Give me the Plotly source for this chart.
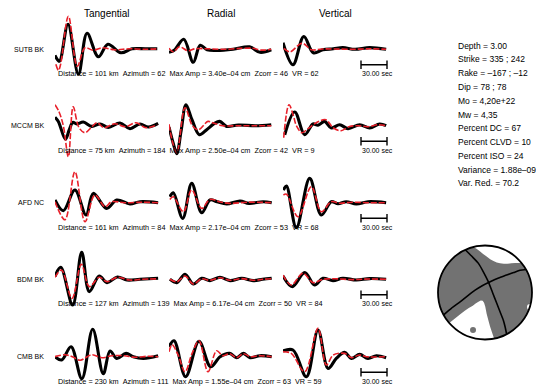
import plotly.graph_objects as go

W, H = 536, 387

# ---------------- data ----------------
STATIONS = ["SUTB BK", "MCCM BK", "AFD NC", "BDM BK", "CMB BK"]
DIST_KM = [101, 75, 161, 127, 230]
AZIMUTH = [62, 184, 84, 139, 111]
MAX_AMP_CM = [3.40e-4, 2.50e-4, 2.17e-4, 6.17e-4, 1.55e-4]
ZCORR = [46, 42, 53, 50, 63]
VR = [62, 9, 68, 84, 59]
COMPONENTS = ["Tangential", "Radial", "Vertical"]
SCALE_SEC = 30.0

# waveforms: (time [s], relative amplitude)
SUTB_TAN_OBS = [(0, -6), (5, -12), (15, 25), (27, -25), (37, 16), (50, -7.5), (61, 5), (76, -3.5), (89, 0.5), (104, 0.5), (118, 0.5)]
SUTB_TAN_SYN = [(1, -15), (4, -21), (6.5, -15), (15.5, 33), (25.7, -17), (34.6, 1.5), (44, -1), (55, 1.5), (69, -0.5), (86, 0.5), (104, 0), (118, 0.5)]
SUTB_RAD_OBS = [(0, -3), (6, -1), (17, 10), (28, -13), (36, 4), (44, -0.5), (55, -1.2), (74, 0), (93, 2.5), (105, -3), (118, -0.5)]
SUTB_RAD_SYN = [(0, 1), (5, -2.5), (12, 2.5), (22, -1.5), (30, 0.5), (45, 0.5), (65, 0), (85, 1), (97, 1), (106, -0.8), (118, 0)]
SUTB_VER_OBS = [(0, 6.5), (11.5, -15.5), (24, 12.8), (35, -3.5), (46, -0.5), (58, 0.5), (69, 1.7), (83, 0), (100, 1.7), (119, 0)]
SUTB_VER_SYN = [(1, 1), (8, -2.5), (22, 6), (33, -0.5), (45, 0.3), (60, 0.3), (80, 0), (100, 0.5), (119, 0)]

MCCM_TAN_OBS = [(0, 8.5), (4, 4), (12, -13.5), (16.5, -4), (20.5, 3.3), (25, 1.7), (32.7, 3.7), (42.4, -0.7), (52, 1.7), (61.5, -1.7), (75, 2.7), (86.5, -3), (98, 1.7), (107.7, -1.3), (119, 2.3)]
MCCM_TAN_SYN = [(0, 21), (4.6, 14), (9.6, 0), (15.4, -31), (21, 19), (27.7, -2), (34.6, -7), (42.7, -1), (48.5, 3), (56.5, -2), (69, 2), (81, -1), (93.5, 3), (105, -2), (118, 1)]
MCCM_RAD_OBS = [(0, -1.5), (5, -18), (9, -28), (14, -5), (19.6, 21), (26.5, 6), (35, -9), (43.5, -4), (52, 2), (58.5, 4.3), (66.5, -0.7), (80, 0.7), (100, 0), (118, 1)]
MCCM_RAD_SYN = [(0, 1.5), (4, -16), (9, -27), (18.5, 18), (27, 0), (34, -4), (45, 4.3), (51, 2.7), (62, 0), (80, 0), (100, 0), (118, 0)]
MCCM_VER_OBS = [(2, -9), (13.5, 13.7), (25, -9), (34.6, 1.7), (40.4, 0.5), (48, 4.3), (55.7, -2.3), (65.4, 1), (75, -3), (88.5, 1), (100, -2.3), (111.5, 1.7), (119, 0)]
MCCM_VER_SYN = [(0.8, -12), (6.9, 21), (12, 10), (15.4, 0), (21.9, -7), (28.8, -3), (40.4, 4), (49.6, 6), (57.7, -2), (67, -5), (76, -1), (86.5, 0), (98, -1), (109.6, 1), (119, 0)]

AFD_TAN_OBS = [(0, 2.7), (9.6, -8), (23, 12.7), (35.8, -12.3), (44.2, 9.3), (59.6, -5.7), (71.2, 2.7), (86.5, -1.3), (98, 1), (119, 0)]
AFD_TAN_SYN = [(0, 1), (11.5, -17), (23, 31), (34.6, -19), (46, 7.7), (57.7, -4), (65.4, 1), (80, 0), (100, 0.5), (119, 0)]
AFD_RAD_OBS = [(1, 6), (5, 10), (15.8, -15.7), (26.2, 19.3), (37.7, -10), (47.3, 2.7), (55.4, 1), (66.5, -1.3), (82, 1.7), (92.3, -0.7), (108.5, 1), (118.5, 0)]
AFD_RAD_SYN = [(1, 3.3), (5, 6), (16.5, -9), (26.2, 12.7), (37.7, -5.7), (47.3, 3.3), (58, 1), (70, -0.7), (90, 0.5), (118.5, 0)]
AFD_VER_OBS = [(0.5, 12.5), (4, 16.7), (15.4, -25), (30.8, 24.3), (44.2, -12.3), (55.7, 1), (63.5, -1), (73, 1), (84.6, -1.3), (98, 1), (119, 0)]
AFD_VER_SYN = [(0.5, 7.7), (4, 8.5), (17.3, -14), (32.7, 16), (44.2, -9), (55.7, 1), (65, -0.5), (80, 0.5), (100, 0), (119, 0)]

BDM_TAN_OBS = [(0, 3), (6.6, 12), (20.4, -25.7), (30.8, 27), (39.6, -12.3), (51, 3.3), (60, -3.3), (72, 2.3), (83, -0.7), (98, 0), (119, 1)]
BDM_TAN_SYN = [(0, 2), (7.5, 9.3), (19.6, -19), (30.4, 15), (39.6, -7.3), (51, 2), (60, -2.3), (72, 2), (86, -0.7), (100, 0), (119, 0.5)]
BDM_RAD_OBS = [(1, 0), (9, -3.3), (18.5, 5), (28, -4.7), (37.7, 1), (47.3, -1.3), (58.8, 2), (70.4, -1.3), (84, 1), (97, -1.3), (108, 0), (118.5, 1)]
BDM_RAD_SYN = [(1, 0), (9, -2.5), (18.5, 3.3), (28, -4.7), (37.7, 0.5), (47.3, -1), (58.8, 1.5), (70.4, -1), (84, 0.7), (97, -1), (108, 0), (118.5, 0.5)]
BDM_VER_OBS = [(0, 3.3), (10.7, -7.3), (25, 6.7), (36.5, -5.7), (46, 1), (57.7, -1.3), (69, 1), (84.6, -0.7), (100, 0.7), (119, 0)]
BDM_VER_SYN = [(0, 4.3), (9.6, -5.7), (23, 6), (34.6, -3.3), (46, 0), (60, 0.5), (80, -0.3), (100, 0.3), (119, 0)]

CMB_TAN_OBS = [(0, 0), (7.7, -3.3), (18.5, 10), (31, -22), (43.5, 27.5), (55.7, -17), (63.5, 5.7), (71.2, -1.7), (82, 3.3), (90.3, 0), (102, -1.7), (119, 1)]
CMB_TAN_SYN = [(0, 0), (11.5, 2), (20, 0), (29, -3.5), (42.5, 2), (54, -1), (65.8, 1), (80, 1), (92, -0.5), (108, 0.5), (119, 0)]
CMB_RAD_OBS = [(0, 10), (5.8, 16), (19.2, -20), (34.6, 15.5), (48, -10), (59, 0), (70, 3.3), (78, -1), (85.7, 3.3), (93.5, -1), (105, 1), (118.5, 0)]
CMB_RAD_SYN = [(0, 5), (3.5, 12), (10.4, 2), (18.5, -15), (26.5, 3), (34.6, 16), (45, -15), (55, 6), (62, 1), (70, 3), (78, -1), (86, 3), (94, 0), (105, 1), (118.5, 0)]
CMB_VER_OBS = [(0, 5.7), (11.5, 6.7), (27, -20), (40.4, 26.7), (52, -11.7), (61.5, -1.7), (71.2, 4.3), (78.8, -1.7), (88.5, 2.3), (98, -1.7), (107.7, 1), (119, -1)]
CMB_VER_SYN = [(0, 5), (9.6, 3.3), (25, -15), (40.4, 28.3), (50, -8.3), (58, 1.7), (71.2, 3.3), (79, -1), (88, 1.7), (96, 0), (119, 0)]

WAVES = [
    [(SUTB_TAN_OBS, SUTB_TAN_SYN), (SUTB_RAD_OBS, SUTB_RAD_SYN), (SUTB_VER_OBS, SUTB_VER_SYN)],
    [(MCCM_TAN_OBS, MCCM_TAN_SYN), (MCCM_RAD_OBS, MCCM_RAD_SYN), (MCCM_VER_OBS, MCCM_VER_SYN)],
    [(AFD_TAN_OBS, AFD_TAN_SYN), (AFD_RAD_OBS, AFD_RAD_SYN), (AFD_VER_OBS, AFD_VER_SYN)],
    [(BDM_TAN_OBS, BDM_TAN_SYN), (BDM_RAD_OBS, BDM_RAD_SYN), (BDM_VER_OBS, BDM_VER_SYN)],
    [(CMB_TAN_OBS, CMB_TAN_SYN), (CMB_RAD_OBS, CMB_RAD_SYN), (CMB_VER_OBS, CMB_VER_SYN)],
]

SOLUTION_LINES = [
    "Depth = 3.00", "Strike = 335 ; 242", "Rake = \u2013167 ; \u201312", "Dip = 78 ; 78",
    "Mo = 4,20e+22", "Mw = 4,35", "Percent DC = 67", "Percent CLVD = 10",
    "Percent ISO = 24", "Variance = 1.88e\u201309", "Var. Red. = 70.2",
]

# beachball (unit-circle coordinates)
NODAL_1 = [(-0.42, 0.91), (-0.28, 0.77), (-0.14, 0.62), (-0.03, 0.43), (0.07, 0.23), (0.16, 0.0),
           (0.25, -0.23), (0.32, -0.41), (0.39, -0.59), (0.43, -0.74), (0.46, -0.89)]
NODAL_2 = [(-0.88, -0.475), (-0.71, -0.33), (-0.53, -0.2), (-0.37, -0.07), (-0.21, 0.05), (-0.05, 0.15),
           (0.11, 0.23), (0.29, 0.31), (0.46, 0.37), (0.61, 0.425), (0.745, 0.475), (0.875, 0.49)]
WHITE_NE = [(-0.25, 0.97), (-0.18, 0.93), (-0.11, 0.88), (-0.04, 0.82), (0.035, 0.765), (0.11, 0.71),
            (0.18, 0.67), (0.25, 0.64), (0.32, 0.62), (0.40, 0.61), (0.475, 0.61), (0.56, 0.62),
            (0.64, 0.63), (0.71, 0.63), (0.77, 0.63), (1.05, 0.63), (1.05, 1.05), (-0.3, 1.05), (-0.3, 0.97)]
WHITE_SW = [(-0.76, -0.65), (-0.68, -0.585), (-0.60, -0.52), (-0.52, -0.455), (-0.43, -0.39),
            (-0.345, -0.33), (-0.26, -0.28), (-0.20, -0.235), (-0.14, -0.195), (-0.09, -0.17),
            (-0.05, -0.175), (-0.02, -0.22), (0.005, -0.30), (0.02, -0.37), (0.035, -0.45),
            (0.07, -0.585), (0.106, -0.72), (0.15, -0.85), (0.19, -0.97), (0.19, -1.05),
            (-1.05, -1.05), (-1.05, -0.65)]
STA_GREY = (-0.255, -0.80)
STA_WHITE = (0.957, -0.31)
BB_LABELS = [("D", 0.04, 1.22, "center"), ("BDM", 0.777, -1.07, "left"), ("MCCM BK", 0.0, -1.37, "center")]

# ---------------- layout constants ----------------
COL_PX = [(55, 159), (169, 273), (283, 387)]
ROW_BASE_PX = [49.3, 125.7, 202.7, 279.3, 356.7]
T_MAX = 120.0
HALF = 45.0
FONT = "Liberation Sans, Arial, sans-serif"
BLACK = "#000000"
RED = "#e8202a"
GREY = "#727272"

fig = go.Figure()
layout = dict(width=W, height=H, margin=dict(l=0, r=0, t=0, b=0),
              paper_bgcolor="white", plot_bgcolor="white", showlegend=False)


def xname(c):
    return "x" if c == 0 else f"x{c+1}"


def yname(r):
    return "y" if r == 0 else f"y{r+1}"


for c, (a, b) in enumerate(COL_PX):
    layout["xaxis" if c == 0 else f"xaxis{c+1}"] = dict(domain=[a / W, b / W], range=[0, T_MAX],
                                                         visible=False, anchor="y", fixedrange=True)
for r, base in enumerate(ROW_BASE_PX):
    up = min(HALF, base)
    dn = min(HALF, H - base)
    layout["yaxis" if r == 0 else f"yaxis{r+1}"] = dict(domain=[1 - (base + dn) / H, 1 - (base - up) / H],
                                                        range=[-dn, up], visible=False, anchor="x", fixedrange=True)

annotations = []
for r in range(5):
    for c in range(3):
        obs, syn = WAVES[r][c]
        fig.add_trace(go.Scatter(x=[p[0] for p in obs], y=[p[1] for p in obs], mode="lines",
                                 line=dict(color=BLACK, width=3.1, shape="spline", smoothing=1.0),
                                 xaxis=xname(c), yaxis=yname(r), hoverinfo="skip"))
        fig.add_trace(go.Scatter(x=[p[0] for p in syn], y=[p[1] for p in syn], mode="lines",
                                 line=dict(color=RED, width=1.6, shape="spline", smoothing=1.0, dash="6px,2px"),
                                 xaxis=xname(c), yaxis=yname(r), hoverinfo="skip"))
    # 30 s scale bar in the vertical column
    fig.add_trace(go.Scatter(x=[T_MAX - SCALE_SEC, T_MAX], y=[-15.5, -15.5], mode="lines+markers",
                             line=dict(color=BLACK, width=1.6),
                             marker=dict(symbol="line-ns", size=6, line=dict(color=BLACK, width=1.4)),
                             cliponaxis=False, xaxis="x3", yaxis=yname(r), hoverinfo="skip"))
    amp = ("%.2e" % MAX_AMP_CM[r]).replace("-", "\u2013")
    sp = "\u00a0\u00a0"
    info = (f"Distance = {DIST_KM[r]} km{sp}Azimuth = {AZIMUTH[r]}{sp}Max Amp = {amp} cm"
            f"{sp}Zcorr = {ZCORR[r]}{sp}VR = {VR[r]}")
    annotations.append(dict(text=info, xref="paper", x=55.5 / W, xanchor="left", yref=yname(r), y=-24.5,
                            yanchor="middle", showarrow=False, font=dict(size=7.3, color=BLACK, family=FONT)))
    annotations.append(dict(text="%.2f sec" % SCALE_SEC, xref="paper", x=377.5 / W, xanchor="center",
                            yref=yname(r), y=-24.5, yanchor="middle", showarrow=False,
                            font=dict(size=7, color=BLACK, family=FONT)))
    annotations.append(dict(text=STATIONS[r], xref="paper", x=45.5 / W, xanchor="right", yref=yname(r), y=0,
                            yanchor="middle", showarrow=False, font=dict(size=7, color=BLACK, family=FONT)))

for c, name in enumerate(COMPONENTS):
    annotations.append(dict(text=name, xref=("x" if c == 0 else f"x{c+1}") + " domain", x=0.5, xanchor="center",
                            yref="paper", y=1 - 13 / H, yanchor="middle", showarrow=False,
                            font=dict(size=10, color=BLACK, family=FONT)))

for i, line in enumerate(SOLUTION_LINES):
    annotations.append(dict(text=line, xref="paper", x=456 / W, xanchor="left", yref="paper",
                            y=1 - (45.7 + 13.76 * i) / H, yanchor="middle", showarrow=False,
                            font=dict(size=8.5, color=BLACK, family=FONT)))

# ---------------- beachball ----------------
BB_C = (485.0, 292.5)
BB_R = 47.0
BB_RANGE = 1.05
layout["xaxis4"] = dict(domain=[(BB_C[0] - BB_R * BB_RANGE) / W, (BB_C[0] + BB_R * BB_RANGE) / W],
                        range=[-BB_RANGE, BB_RANGE], visible=False, anchor="y6", fixedrange=True)
layout["yaxis6"] = dict(domain=[1 - (BB_C[1] + BB_R * BB_RANGE) / H, 1 - (BB_C[1] - BB_R * BB_RANGE) / H],
                        range=[-BB_RANGE, BB_RANGE], visible=False, anchor="x4", fixedrange=True)


def svg_path(poly):
    return "M " + " L ".join(f"{u},{v}" for u, v in poly) + " Z"


shapes = [
    dict(type="circle", xref="x4", yref="y6", x0=-1, y0=-1, x1=1, y1=1, fillcolor=GREY,
         line=dict(width=0), layer="below"),
]
for poly in (WHITE_NE, WHITE_SW):
    shapes.append(dict(type="path", xref="x4", yref="y6", path=svg_path(poly), fillcolor="white",
                       line=dict(width=0), layer="below"))
shapes.append(dict(type="circle", xref="x4", yref="y6", x0=-1, y0=-1, x1=1, y1=1,
                   fillcolor="rgba(0,0,0,0)", line=dict(width=1.8, color=BLACK), layer="above"))

for nl in (NODAL_1, NODAL_2):
    fig.add_trace(go.Scatter(x=[p[0] for p in nl], y=[p[1] for p in nl], mode="lines",
                             line=dict(width=1.6, color=BLACK, shape="spline", smoothing=0.6),
                             xaxis="x4", yaxis="y6", hoverinfo="skip"))
fig.add_trace(go.Scatter(x=[STA_GREY[0]], y=[STA_GREY[1]], mode="markers",
                         marker=dict(size=6, color=GREY, line=dict(width=0)), xaxis="x4", yaxis="y6",
                         hoverinfo="skip"))
fig.add_trace(go.Scatter(x=[STA_WHITE[0]], y=[STA_WHITE[1]], mode="markers",
                         marker=dict(size=6, color="white", line=dict(width=0)), xaxis="x4", yaxis="y6",
                         cliponaxis=False, hoverinfo="skip"))
for txt, u, v, anc in BB_LABELS:
    annotations.append(dict(text=txt, xref="x4", yref="y6", x=u, y=v, xanchor=anc, yanchor="middle",
                            showarrow=False, font=dict(size=7, color=BLACK, family=FONT)))

layout["annotations"] = annotations
layout["shapes"] = shapes
fig.update_layout(**layout)
fig.write_html("out.html", config={"displayModeBar": False, "staticPlot": True},
               post_script="document.body.style.margin='0px';document.body.style.overflow='hidden';")
